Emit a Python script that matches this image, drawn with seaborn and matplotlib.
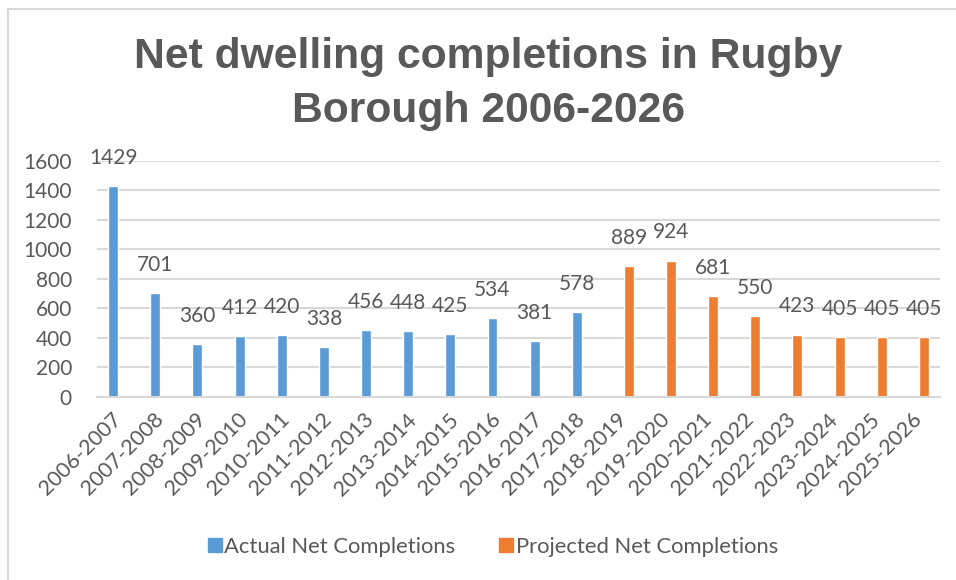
import matplotlib
matplotlib.use("Agg")
import matplotlib.pyplot as plt
import seaborn as sns
import pandas as pd
from matplotlib.lines import Line2D

periods = ["2006-2007", "2007-2008", "2008-2009", "2009-2010", "2010-2011",
           "2011-2012", "2012-2013", "2013-2014", "2014-2015", "2015-2016",
           "2016-2017", "2017-2018", "2018-2019", "2019-2020", "2020-2021",
           "2021-2022", "2022-2023", "2023-2024", "2024-2025", "2025-2026"]
actual_periods = periods[:12]
actual_values = [1429, 701, 360, 412, 420, 338, 456, 448, 425, 534, 381, 578]
projected_periods = periods[12:]
projected_values = [889, 924, 681, 550, 423, 405, 405, 405]
series_names = ["Actual Net Completions", "Projected Net Completions"]
y_ticks = [0, 200, 400, 600, 800, 1000, 1200, 1400, 1600]
title_lines = ["Net dwelling completions in Rugby", "Borough 2006-2026"]

df = pd.concat([
    pd.DataFrame({"period": actual_periods, "value": actual_values, "series": series_names[0]}),
    pd.DataFrame({"period": projected_periods, "value": projected_values, "series": series_names[1]}),
], ignore_index=True)

sns.set_theme(style="white")
plt.rcParams["font.family"] = ["Lato", "DejaVu Sans"]

W, H = 956, 580
fig = plt.figure(figsize=(W / 100, H / 100), dpi=100)
ax = fig.add_axes([97 / W, 1 - 397 / H, (940 - 97) / W, (397 - 160.7) / H])

text_col = "#595959"
palette = {series_names[0]: "#5B9BD5", series_names[1]: "#ED7D31"}

sns.barplot(data=df, x="period", y="value", hue="series", order=periods,
            hue_order=series_names, palette=palette, dodge=True, width=0.47,
            saturation=1, ax=ax, legend=False, errorbar=None)

for cont in ax.containers:
    ax.bar_label(cont, fmt="%d", padding=13, fontsize=15, color=text_col)

ax.set_ylim(0, 1600)
ax.set_yticks(y_ticks)
ax.set_yticklabels([str(t) for t in y_ticks], fontsize=15, color=text_col)
ax.yaxis.grid(True, color="#D9D9D9", linewidth=1.5)
ax.set_axisbelow(True)
ax.set_xlabel("")
ax.set_ylabel("")
for s in ["top", "right", "left"]:
    ax.spines[s].set_visible(False)
ax.spines["bottom"].set_color("#D9D9D9")
ax.spines["bottom"].set_linewidth(1.5)
ax.tick_params(axis="y", length=0, pad=18)
ax.tick_params(axis="x", length=0, pad=14)
ax.set_xticks(range(len(periods)))
ax.set_xticklabels(periods, rotation=45, ha="right", va="center",
                   rotation_mode="anchor", fontsize=15.5, color=text_col)
ax.set_xlim(-0.5, len(periods) - 0.5)

# titles
fig.text(488 / W, 1 - 68 / H, title_lines[0], ha="center", va="baseline",
         fontsize=30.7, fontweight="bold", color=text_col, family="Liberation Sans")
fig.text(488 / W, 1 - 122 / H, title_lines[1], ha="center", va="baseline",
         fontsize=30.7, fontweight="bold", color=text_col, family="Liberation Sans")

# legend
handles = [Line2D([0], [0], marker="s", linestyle="", markersize=10,
                  markerfacecolor=palette[n], markeredgecolor=palette[n]) for n in series_names]
fig.legend(handles, series_names, loc="center", bbox_to_anchor=(492 / W, 1 - 547 / H),
           ncol=2, frameon=False, fontsize=15.8, labelcolor=text_col,
           handletextpad=0.05, columnspacing=1.9, handlelength=0.8)

# outer frame
fig.add_artist(Line2D([8 / W, 1], [1 - 9 / H, 1 - 9 / H], color="#D9D9D9", linewidth=1.5,
                      transform=fig.transFigure))
fig.add_artist(Line2D([8 / W, 8 / W], [0, 1 - 9 / H], color="#D9D9D9", linewidth=1.5,
                      transform=fig.transFigure))

fig.savefig("out.png", dpi=100)
